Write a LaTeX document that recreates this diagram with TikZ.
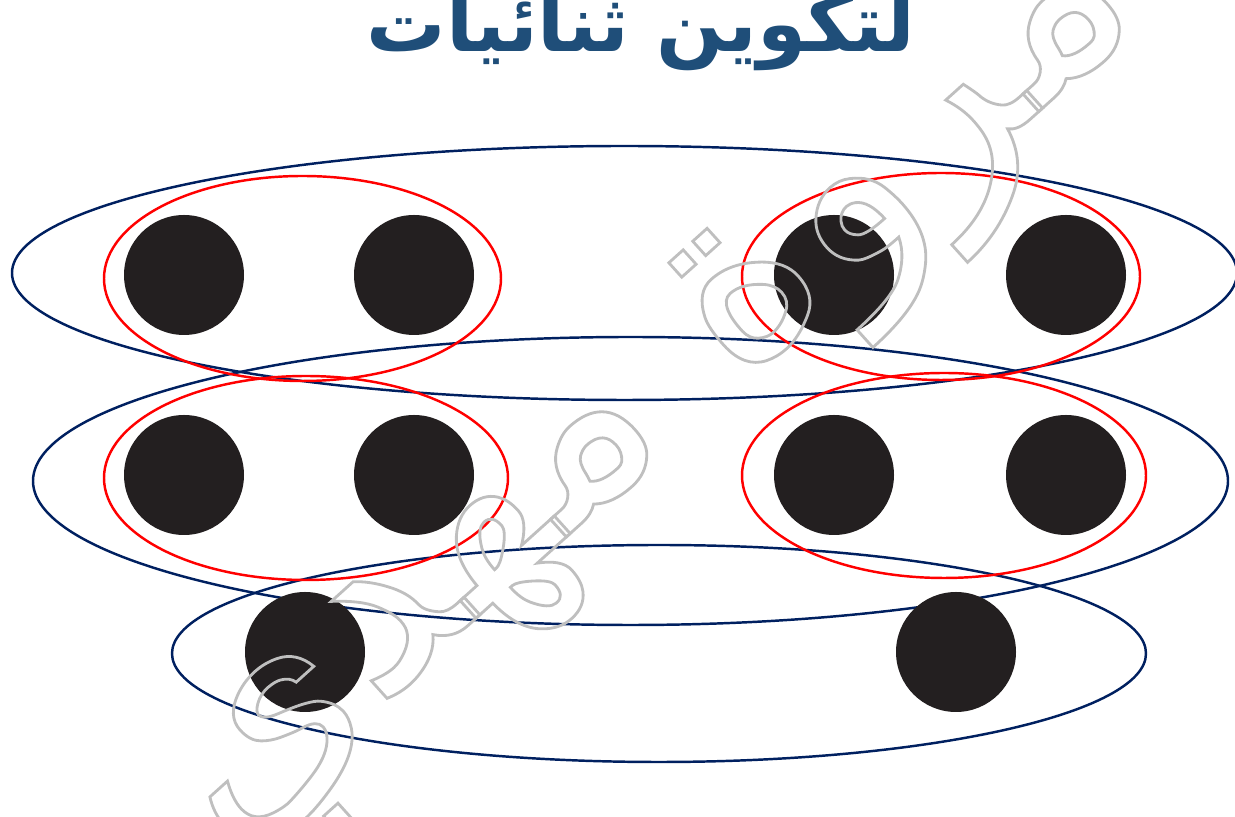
\documentclass[tikz,border=0pt]{standalone}
\usepackage{fontspec}
\usepackage{xcolor}
\usepackage{tikz}
\usetikzlibrary{shapes.geometric}
\TeXXeTstate=1
\newfontfamily\arabicfont[Script=Arabic]{DejaVu Sans}
\definecolor{pairNavy}{RGB}{0,32,96}
\definecolor{pairRed}{RGB}{255,0,0}
\definecolor{dotInk}{RGB}{35,31,32}
\definecolor{titleBlue}{RGB}{31,78,121}
\definecolor{markGray}{RGB}{191,191,191}
\newcommand{\outlinetext}[1]{\special{pdf:literal direct 1 Tr 1.6 w}#1\special{pdf:literal direct 0 Tr}}

\begin{document}
\begin{tikzpicture}
\tikzstyle{groupring}=[draw=pairNavy, line width=1.4pt, ellipse, inner sep=0pt]
\tikzstyle{pairring}=[draw=pairRed, line width=1.4pt, ellipse, inner sep=0pt]
\tikzstyle{dot}=[circle, fill=dotInk, minimum size=2.4cm, inner sep=0pt]
\useasboundingbox (0,0) rectangle (24.7,16.34);
\clip (0,0) rectangle (24.7,16.34);

\node[anchor=base, text=titleBlue, font=\fontsize{45}{50}\selectfont] (title) at (12.82,15.3) {\arabicfont\bfseries\beginR لتكوين ثنائيات\endR};

% groups of the whole set
\node[groupring, minimum width=24.5cm, minimum height=5.08cm] (grpA) at (12.49,10.88) {};
\node[groupring, minimum width=23.9cm, minimum height=5.76cm] (grpB) at (12.61,6.72) {};
\node[groupring, minimum width=19.48cm, minimum height=4.34cm] (grpC) at (13.18,3.27) {};

% pairs
\node[pairring, minimum width=7.94cm, minimum height=4.1cm] (pairA) at (6.05,10.77) {};
\node[pairring, minimum width=7.96cm, minimum height=4.14cm] (pairB) at (18.82,10.81) {};
\node[pairring, minimum width=8.08cm, minimum height=4.08cm] (pairC) at (6.12,6.78) {};
\node[pairring, minimum width=8.08cm, minimum height=4.1cm] (pairD) at (18.88,6.83) {};

\foreach \y/\r in {10.84/1,6.84/2}{
  \foreach \x/\c in {3.68/1,8.28/2,16.68/3,21.32/4}{
    \node[dot] (dot\r\c) at (\x,\y) {};}}
\node[dot] (dot31) at (6.1,3.3) {};
\node[dot] (dot32) at (19.12,3.3) {};

\node[text=markGray, rotate=42, font=\fontsize{150}{170}\selectfont] (mark) at (13.2,8.24) {\arabicfont\outlinetext{\beginR مروة مهدي\endR}};
\end{tikzpicture}
\end{document}
